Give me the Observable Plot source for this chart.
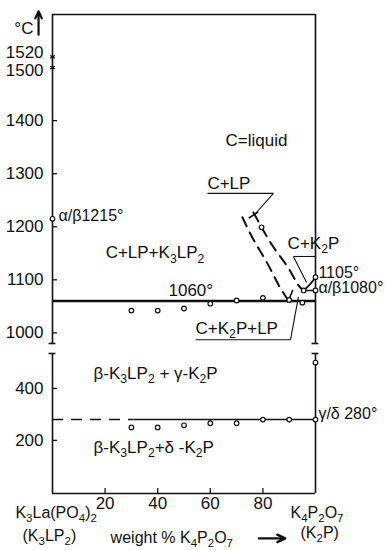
<!DOCTYPE html>
<html><head><meta charset="utf-8">
<script src="https://cdn.jsdelivr.net/npm/d3@7"></script>
<script src="https://cdn.jsdelivr.net/npm/@observablehq/plot@0.6"></script>
<style>
body{margin:0;background:#fff;}
#chart{position:relative;width:385px;height:550px;}
#chart svg{position:absolute;left:0;overflow:visible;}
</style></head><body><div id="chart"></div>
<script>
// ---------- data ----------
const xTicks = [20, 40, 60, 80];
const upperTicks = [1000, 1100, 1200, 1300, 1400];
const lowerTicks = [200, 400];

// upper panel (°C)
const eutecticT = 1060;
const solidusX = [30, 40, 50, 60, 70, 80, 90, 95];
const solidusT = [1042, 1042, 1046, 1055, 1061, 1066, 1062, 1057];
const liqOuterX = [72.2, 76.5, 81.7, 86.0, 89.7];
const liqOuterT = [1218, 1175, 1131, 1090, 1061];
const liqInnerX = [76.4, 80.5, 84.8, 89.7, 93.2, 95.5];
const liqInnerT = [1227, 1190, 1156, 1122, 1092, 1080];
const vArmX = [89.7, 91.3];
const vArmT = [1061, 1080];
const liquidPtX = [79.5];
const liquidPtT = [1199];
const k2pLiqX = [95.5, 97.8, 100];
const k2pLiqT = [1080, 1091, 1105];
const k2pTransX = [95.5, 100];
const k2pTransT = [1080, 1080];
const k2pPtsX = [95.5, 100, 100];
const k2pPtsT = [1080, 1080, 1105];
const k3Melt = [1520, 1500];
const k3Trans = [1215];

// upper annotations
const upText = ["C=liquid", "C+LP", "C+LP+K\u2083LP\u2082", "1060°", "C+K\u2082P", "1105°", "\u03b1/\u03b21080°", "C+K\u2082P+LP", "\u03b1/\u03b21215°", "°C"];
const upTextX = [65.8, 58.9, 20.2, 44.1, 89.4, 101.1, 101.1, 54.4, 2.3, -14.5];
const upTextT = [1363, 1281, 1151, 1080, 1168, 1114, 1084, 1008, 1221, 1573];
const upTextSize = [17, 17, 17, 17, 17, 16, 16, 17, 16, 17];
const upNumText = ["1520", "1500"];
const upNumT = [1528, 1494];
// leader lines [x1, T1, x2, T2]
const leadX1 = [58.9, 84.0, 91.6, 91.6, 54.4, 90.5];
const leadT1 = [1263, 1263, 1144, 1144, 987, 987];
const leadX2 = [84.0, 77.2, 100, 96.6, 90.5, 93.5];
const leadT2 = [1263, 1225, 1144, 1095, 987, 1068];
const crossX = [74.8, 78.0];
const crossT = [1217, 1227];

// lower panel (°C)
const gdT = 280;
const lowX = [30, 40, 50, 60, 70, 80, 90, 100, 100];
const lowT = [250, 250, 258, 266, 266, 280, 280, 280, 500];
const lowText = ["\u03b2-K\u2083LP\u2082 + \u03b3-K\u2082P", "\u03b2-K\u2083LP\u2082+\u03b4 -K\u2082P", "\u03b3/\u03b4 280°",
  "K\u2083La(PO\u2084)\u2082", "(K\u2083LP\u2082)", "weight % K\u2084P\u2082O\u2087", "K\u2084P\u2082O\u2087", "(K\u2082P)"];
const lowTextX = [15.6, 15.6, 101.1, -14.1, -11.4, 22.1, 90.5, 94.3];
const lowTextT = [458, 172, 304, -78, -167, -178, -78, -155];
const lowTextSize = [17, 17, 16, 16, 16, 16, 16, 16];

const font = "'Liberation Sans', Arial, sans-serif";
const styleObj = {fontFamily: font, fontSize: "17px", color: "#111", background: "transparent", overflow: "visible"};
const ink = "#111";
const idx = a => d3.range(a.length);

const upper = Plot.plot({
  width: 385, height: 345, marginTop: 14, marginBottom: 2, marginLeft: 52, marginRight: 70,
  style: styleObj,
  x: {domain: [0, 100], axis: null},
  y: {domain: [980, 1600]},
  marks: [
    Plot.axisY({ticks: upperTicks, tickSize: 0, tickPadding: 9, fontSize: 17, label: null, tickFormat: d => String(d)}),
    Plot.ruleY(upperTicks, {x1: 0, x2: 1.9, stroke: ink, strokeWidth: 1.3}),
    Plot.ruleX([0, 100], {stroke: ink, strokeWidth: 1.6}),
    Plot.ruleY([1600], {stroke: ink, strokeWidth: 1.6}),
    Plot.ruleY([980, 980], {x1: [-1.3, 98.7], x2: [1.3, 101.3], stroke: ink, strokeWidth: 1.6}),
    Plot.ruleY([eutecticT], {x1: 0, x2: 100, stroke: ink, strokeWidth: 2.4}),
    Plot.line(idx(liqOuterX), {x: i => liqOuterX[i], y: i => liqOuterT[i], curve: "natural", stroke: ink, strokeWidth: 2, strokeDasharray: "10,7"}),
    Plot.line(idx(liqInnerX), {x: i => liqInnerX[i], y: i => liqInnerT[i], curve: "natural", stroke: ink, strokeWidth: 2, strokeDasharray: "10,7"}),
    Plot.line(idx(vArmX), {x: i => vArmX[i], y: i => vArmT[i], stroke: ink, strokeWidth: 1.6}),
    Plot.line(idx(crossX), {x: i => crossX[i], y: i => crossT[i], stroke: ink, strokeWidth: 1.6}),
    Plot.line(idx(k2pLiqX), {x: i => k2pLiqX[i], y: i => k2pLiqT[i], curve: "natural", stroke: ink, strokeWidth: 1.8}),
    Plot.line(idx(k2pTransX), {x: i => k2pTransX[i], y: i => k2pTransT[i], stroke: ink, strokeWidth: 1.6}),
    Plot.link(idx(leadX1), {x1: i => leadX1[i], y1: i => leadT1[i], x2: i => leadX2[i], y2: i => leadT2[i], stroke: ink, strokeWidth: 1.1}),
    Plot.dot(idx(solidusX), {x: i => solidusX[i], y: i => solidusT[i], r: 2.3, stroke: ink, strokeWidth: 1.2, fill: "white"}),
    Plot.dot(idx(liquidPtX), {x: i => liquidPtX[i], y: i => liquidPtT[i], r: 2.3, stroke: ink, strokeWidth: 1.2, fill: "white"}),
    Plot.dot(idx(k2pPtsX), {x: i => k2pPtsX[i], y: i => k2pPtsT[i], r: 2.3, stroke: ink, strokeWidth: 1.2, fill: "white"}),
    Plot.dot(k3Trans, {x: 0, y: d => d, r: 2.3, stroke: ink, strokeWidth: 1.2, fill: "white"}),
    Plot.dot(k3Melt, {x: 0, y: d => d, r: 2.6, symbol: "asterisk", stroke: ink, strokeWidth: 1.2}),
    Plot.text(idx(upText), {x: i => upTextX[i], y: i => upTextT[i], text: i => upText[i], textAnchor: "start", fontSize: i => upTextSize[i], fill: ink}),
    Plot.text(idx(upNumText), {x: -3.4, y: i => upNumT[i], text: i => upNumText[i], textAnchor: "end", fontSize: 17, fill: ink}),
    Plot.arrow([0], {x1: -5.3, y1: 1562, x2: -5.3, y2: 1606, stroke: ink, strokeWidth: 2.2, headLength: 7, headAngle: 50})
  ]
});

const lower = Plot.plot({
  width: 385, height: 205, marginTop: 8, marginBottom: 57, marginLeft: 52, marginRight: 70,
  style: styleObj,
  x: {domain: [0, 100]},
  y: {domain: [-5, 535]},
  marks: [
    Plot.axisY({ticks: lowerTicks, tickSize: 0, tickPadding: 9, fontSize: 17, label: null}),
    Plot.axisX({ticks: xTicks, tickSize: 0, tickPadding: 3, fontSize: 17, label: null}),
    Plot.ruleY(lowerTicks, {x1: 0, x2: 1.9, stroke: ink, strokeWidth: 1.3}),
    Plot.ruleX(xTicks, {y1: -5, y2: 14, stroke: ink, strokeWidth: 1.3}),
    Plot.ruleX([0, 100], {stroke: ink, strokeWidth: 1.6}),
    Plot.ruleY([-5], {stroke: ink, strokeWidth: 1.6}),
    Plot.ruleY([535, 535], {x1: [-1.3, 98.7], x2: [1.3, 101.3], stroke: ink, strokeWidth: 1.6}),
    Plot.ruleY([gdT], {x1: 0, x2: 31, stroke: ink, strokeWidth: 1.5, strokeDasharray: "11,8"}),
    Plot.ruleY([gdT], {x1: 31, x2: 100, stroke: ink, strokeWidth: 1.5}),
    Plot.dot(idx(lowX), {x: i => lowX[i], y: i => lowT[i], r: 2.3, stroke: ink, strokeWidth: 1.2, fill: "white"}),
    Plot.text(idx(lowText), {x: i => lowTextX[i], y: i => lowTextT[i], text: i => lowText[i], textAnchor: "start", fontSize: i => lowTextSize[i], fill: ink}),
    Plot.arrow([0], {x1: 78.5, y1: -178, x2: 88.5, y2: -178, stroke: ink, strokeWidth: 2.4, headLength: 8, headAngle: 50})
  ]
});

// render Unicode subscript digits as lowered, smaller real digits
const subMap = {"\u2080":"0","\u2081":"1","\u2082":"2","\u2083":"3","\u2084":"4","\u2085":"5","\u2086":"6","\u2087":"7","\u2088":"8","\u2089":"9"};
function fixSubs(svg) {
  svg.querySelectorAll("text").forEach(t => {
    if (t.children.length) return;
    const s = t.textContent;
    if (!/[\u2080-\u2089]/.test(s)) return;
    const fs = parseFloat(t.getAttribute("font-size") || getComputedStyle(t).fontSize) || 17;
    t.textContent = "";
    let sub = false;
    const parts = s.match(/[\u2080-\u2089]+|[^\u2080-\u2089]+/g);
    parts.forEach(p => {
      const ts = document.createElementNS("http://www.w3.org/2000/svg", "tspan");
      const isSub = /[\u2080-\u2089]/.test(p);
      if (isSub) {
        ts.textContent = p.replace(/[\u2080-\u2089]/g, c => subMap[c]);
        ts.setAttribute("font-size", (fs * 0.72).toFixed(1));
        ts.setAttribute("dy", (fs * 0.25).toFixed(1));
        sub = true;
      } else {
        ts.textContent = p;
        if (sub) ts.setAttribute("dy", (-fs * 0.25).toFixed(1));
        sub = false;
      }
      t.appendChild(ts);
    });
  });
}
fixSubs(upper); fixSubs(lower);

const c = document.getElementById("chart");
upper.style.top = "0px";
lower.style.top = "345px";
c.appendChild(upper);
c.appendChild(lower);
</script>
</body></html>
